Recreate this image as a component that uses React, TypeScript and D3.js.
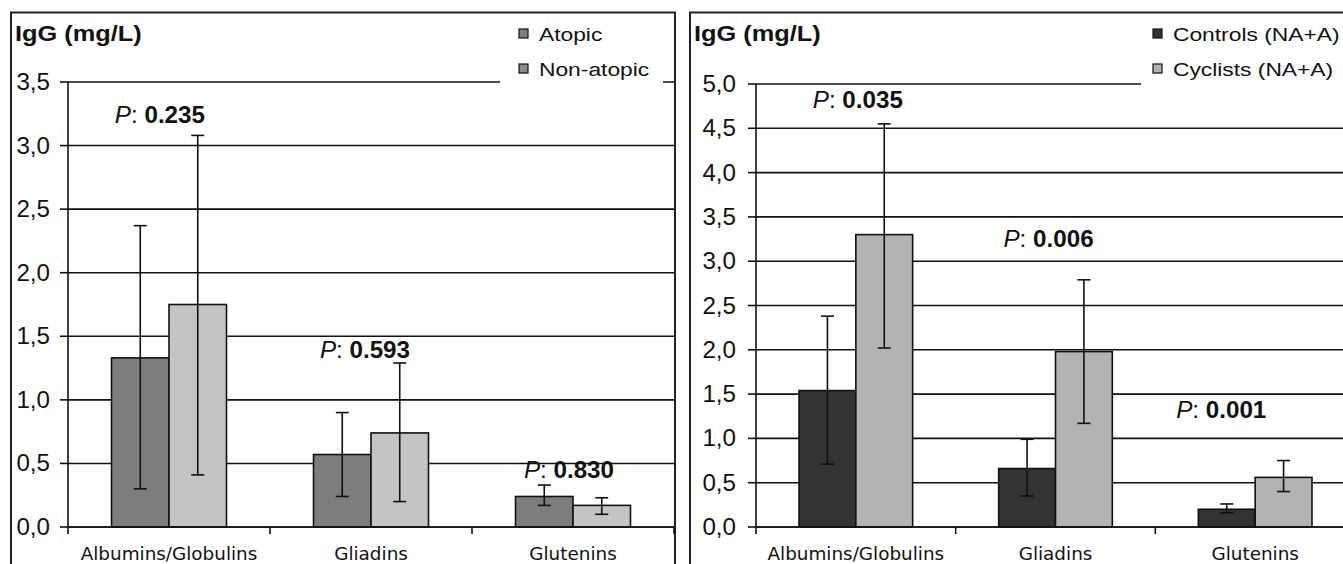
import React from "react";
import * as d3 from "d3";

// ---------- data ----------
const categories = ["Albumins/Globulins", "Gliadins", "Glutenins"];

// Left panel
const leftSeries = ["Atopic", "Non-atopic"];
const atopicMean = [1.33, 0.57, 0.24];
const atopicLow = [0.3, 0.24, 0.17];
const atopicHigh = [2.37, 0.9, 0.33];
const nonAtopicMean = [1.75, 0.74, 0.17];
const nonAtopicLow = [0.41, 0.2, 0.1];
const nonAtopicHigh = [3.08, 1.29, 0.23];
const leftTicks = [0, 0.5, 1, 1.5, 2, 2.5, 3, 3.5];
const leftP = ["0.235", "0.593", "0.830"];
const leftPLevel = [3.18, 1.33, 0.385];
const leftPShift = [-0.045, -0.03, -0.02];

// Right panel
const rightSeries = ["Controls (NA+A)", "Cyclists (NA+A)"];
const controlsMean = [1.54, 0.66, 0.2];
const controlsLow = [0.71, 0.35, 0.16];
const controlsHigh = [2.38, 0.99, 0.26];
const cyclistsMean = [3.3, 1.98, 0.56];
const cyclistsLow = [2.02, 1.17, 0.4];
const cyclistsHigh = [4.55, 2.79, 0.75];
const rightTicks = [0, 0.5, 1, 1.5, 2, 2.5, 3, 3.5, 4, 4.5, 5];
const rightP = ["0.035", "0.006", "0.001"];
const rightPLevel = [4.73, 3.16, 1.23];
const rightPShift = [0.01, -0.035, -0.17];

const yLabel = "IgG (mg/L)";

type Series = { name: string; mean: number[]; low: number[]; high: number[]; fill: string; legendFill: string };

const SANS = "'Liberation Sans', Arial, sans-serif";
const CAT_FONT = "'DejaVu Sans', Verdana, sans-serif";

// text drawn slightly stretched horizontally, like the reference
function SText(props: {
  x: number;
  y: number;
  sx: number;
  anchor?: "start" | "middle" | "end";
  size: number;
  family: string;
  weight?: string;
  children: React.ReactNode;
}) {
  const { x, y, sx, anchor = "start", size, family, weight = "normal", children } = props;
  return (
    <g transform={`translate(${x},${y}) scale(${sx},1)`}>
      <text x={0} y={0} textAnchor={anchor} fontFamily={family} fontSize={size} fontWeight={weight} fill="#111">
        {children}
      </text>
    </g>
  );
}

function Panel(props: {
  frameX: number;
  frameW: number;
  axisX: number;
  plotRight: number;
  yMax: number;
  yTopPx: number;
  ticks: number[];
  series: Series[];
  pVals: string[];
  pLevel: number[];
  pShift: number[];
  legendX: number;
  legendBoxX: number;
  legendBoxW: number;
  tickLabelGap: number;
}) {
  const { frameX, frameW, axisX, plotRight, yMax, yTopPx, ticks, series, pVals, pLevel, pShift, legendX, legendBoxX, legendBoxW, tickLabelGap } = props;
  const y0 = 527;
  const y = d3.scaleLinear().domain([0, yMax]).range([y0, yTopPx]);
  const x = d3.scaleBand<string>().domain(categories).range([axisX, plotRight]).paddingInner(0).paddingOuter(0);
  const bw = x.bandwidth();
  const inner = d3
    .scaleBand<string>()
    .domain(series.map((s) => s.name))
    .range([0, bw])
    .paddingInner(0)
    .paddingOuter(0.757);
  const fmt = (v: number) => v.toFixed(1).replace(".", ",");
  const capW = 13;

  return (
    <g>
      {/* frame */}
      <rect x={frameX} y={12.5} width={frameW} height={600} fill="white" stroke="#222" strokeWidth={2} />
      {/* gridlines */}
      {ticks.map((t) => (
        <line key={"g" + t} x1={axisX} x2={plotRight} y1={y(t)} y2={y(t)} stroke="#111" strokeWidth={1.6} />
      ))}
      {/* y axis */}
      <line x1={axisX} x2={axisX} y1={y(yMax)} y2={y0} stroke="#111" strokeWidth={1.6} />
      {ticks.map((t) => (
        <g key={"t" + t}>
          <line x1={axisX - 8} x2={axisX} y1={y(t)} y2={y(t)} stroke="#111" strokeWidth={1.6} />
          <SText x={axisX - tickLabelGap} y={y(t) + 8} sx={1.05} anchor="end" size={23} family={SANS}>
            {fmt(t)}
          </SText>
        </g>
      ))}
      {/* x category ticks */}
      {categories.map((c) => (
        <line key={"xt" + c} x1={x(c)!} x2={x(c)!} y1={y0} y2={y0 + 7} stroke="#111" strokeWidth={1.6} />
      ))}
      <line x1={plotRight} x2={plotRight} y1={y0} y2={y0 + 7} stroke="#111" strokeWidth={1.6} />
      {/* bars */}
      {series.map((s) =>
        categories.map((c, i) => {
          const bx = x(c)! + inner(s.name)!;
          return (
            <rect
              key={s.name + c}
              x={bx}
              y={y(s.mean[i])}
              width={inner.bandwidth()}
              height={y0 - y(s.mean[i])}
              fill={s.fill}
              stroke="#111"
              strokeWidth={1.6}
            />
          );
        })
      )}
      {/* error bars */}
      {series.map((s) =>
        categories.map((c, i) => {
          const cx = x(c)! + inner(s.name)! + inner.bandwidth() / 2;
          return (
            <g key={"e" + s.name + c} stroke="#111" strokeWidth={1.6}>
              <line x1={cx} x2={cx} y1={y(s.low[i])} y2={y(s.high[i])} />
              <line x1={cx - capW / 2} x2={cx + capW / 2} y1={y(s.low[i])} y2={y(s.low[i])} />
              <line x1={cx - capW / 2} x2={cx + capW / 2} y1={y(s.high[i])} y2={y(s.high[i])} />
            </g>
          );
        })
      )}
      {/* x axis line */}
      <line x1={axisX} x2={plotRight} y1={y0} y2={y0} stroke="#111" strokeWidth={1.6} />
      {/* category labels */}
      {categories.map((c) => (
        <SText key={"cl" + c} x={x(c)! + bw / 2} y={560} sx={1.05} anchor="middle" size={17.5} family={CAT_FONT}>
          {c}
        </SText>
      ))}
      {/* P labels */}
      {categories.map((c, i) => (
        <SText key={"p" + c} x={x(c)! + bw / 2 + pShift[i] * bw} y={y(pLevel[i])} sx={1.03} anchor="middle" size={23.5} family={SANS}>
          <tspan fontStyle="italic">P</tspan>
          <tspan>: </tspan>
          <tspan fontWeight="bold">{pVals[i]}</tspan>
        </SText>
      ))}
      {/* y label */}
      <SText x={frameX + 4} y={41} sx={1.18} size={21.5} family={SANS} weight="bold">
        {yLabel}
      </SText>
      {/* legend */}
      <rect x={legendBoxX} y={16} width={legendBoxW} height={78} fill="white" />
      {series.map((s, k) => (
        <g key={"lg" + s.name}>
          <rect x={legendX} y={29 + k * 35} width={9} height={9} fill={s.legendFill} stroke="#111" strokeWidth={1.2} />
          <SText x={legendX + 20} y={41 + k * 35} sx={1.2} size={19} family={SANS}>
            {s.name}
          </SText>
        </g>
      ))}
    </g>
  );
}

export default function App() {
  const left: Series[] = [
    { name: leftSeries[0], mean: atopicMean, low: atopicLow, high: atopicHigh, fill: "#7d7d7d", legendFill: "#7d7d7d" },
    { name: leftSeries[1], mean: nonAtopicMean, low: nonAtopicLow, high: nonAtopicHigh, fill: "#c4c4c4", legendFill: "#8a8a8a" },
  ];
  const right: Series[] = [
    { name: rightSeries[0], mean: controlsMean, low: controlsLow, high: controlsHigh, fill: "#333333", legendFill: "#333333" },
    { name: rightSeries[1], mean: cyclistsMean, low: cyclistsLow, high: cyclistsHigh, fill: "#b3b3b3", legendFill: "#b3b3b3" },
  ];
  return (
    <svg width={1343} height={564} style={{ position: "absolute", left: 0, top: 0, background: "white" }}>
      <rect x={0} y={0} width={1343} height={564} fill="white" />
      <Panel
        frameX={11}
        frameW={664}
        axisX={68}
        plotRight={674}
        yMax={3.5}
        yTopPx={82}
        ticks={leftTicks}
        series={left}
        pVals={leftP}
        pLevel={leftPLevel}
        pShift={leftPShift}
        legendX={519}
        legendBoxX={500}
        legendBoxW={163}
        tickLabelGap={18}
      />
      <Panel
        frameX={690}
        frameW={700}
        axisX={756}
        plotRight={1355}
        yMax={5}
        yTopPx={84}
        ticks={rightTicks}
        series={right}
        pVals={rightP}
        pLevel={rightPLevel}
        pShift={rightPShift}
        legendX={1153}
        legendBoxX={1141}
        legendBoxW={220}
        tickLabelGap={20}
      />
    </svg>
  );
}
